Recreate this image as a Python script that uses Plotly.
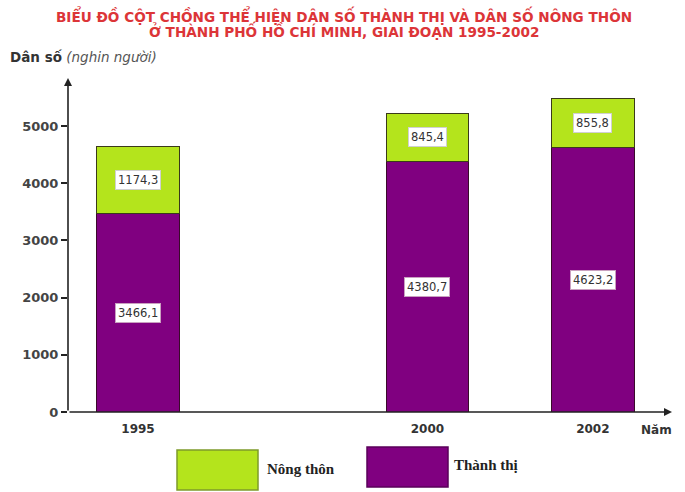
import plotly.graph_objects as go

years = ["1995", "2000", "2002"]
thanh_thi = [3466.1, 4380.7, 4623.2]
nong_thon = [1174.3, 845.4, 855.8]
y_ticks = [0, 1000, 2000, 3000, 4000, 5000]
title_lines = ["BIỂU ĐỒ CỘT CHỒNG THỂ HIỆN DÂN SỐ THÀNH THỊ VÀ DÂN SỐ NÔNG THÔN",
               "Ở THÀNH PHỐ HỒ CHÍ MINH, GIAI ĐOẠN 1995-2002"]

# layout slots for the (unevenly spaced) columns
slots = [1, 4.5, 6.5]

PURPLE = "#800080"
GREEN = "#b4e41c"
FONT = "DejaVu Sans"

W, H = 685, 492
L, R, T, B = 68, 13, 78, 80
PW, PH = W - L - R, H - T - B

fig = go.Figure()
fig.add_trace(go.Bar(x=slots, y=thanh_thi, width=1.0, name="Thành thị",
                     marker=dict(color=PURPLE, line=dict(color="#3a0a2a", width=1))))
fig.add_trace(go.Bar(x=slots, y=nong_thon, width=1.0, name="Nông thôn",
                     marker=dict(color=GREEN, line=dict(color="#3a3a1a", width=1))))

fmt = lambda v: f"{v:.1f}".replace(".", ",")
ann = []
for s, a, b in zip(slots, thanh_thi, nong_thon):
    ann.append(dict(x=s, y=a / 2, text=fmt(a), showarrow=False, bgcolor="white",
                    bordercolor="#c9a0c0", borderwidth=1, borderpad=2,
                    font=dict(family=FONT, size=11.5, color="#333")))
    ann.append(dict(x=s, y=a + b / 2, text=fmt(b), showarrow=False, bgcolor="white",
                    bordercolor="#d0d0d0", borderwidth=1, borderpad=2,
                    font=dict(family=FONT, size=11.5, color="#333")))

def px(xp):
    return (xp - L) / PW

def py(yp):
    return (H - B - yp) / PH

# axis arrows
ann.append(dict(xref="paper", yref="paper", x=0, y=1, ax=0, ay=PH, axref="pixel", ayref="pixel",
                showarrow=True, arrowhead=2, arrowsize=1, arrowwidth=1.6, arrowcolor="#222", text=""))
ann.append(dict(xref="paper", yref="paper", x=1, y=0, ax=-PW, ay=0, axref="pixel", ayref="pixel",
                showarrow=True, arrowhead=2, arrowsize=1, arrowwidth=1.6, arrowcolor="#222", text=""))

# title lines
for i, line in enumerate(title_lines):
    ann.append(dict(xref="paper", yref="paper", x=px(344), y=py(16 + 15 * i),
                    xanchor="center", yanchor="middle", showarrow=False,
                    text=f"<b>{line}</b>",
                    font=dict(family=FONT, size=13.6, color="#dc3538")))

# texts
ann.append(dict(xref="paper", yref="paper", x=px(8), y=py(57), xanchor="left", yanchor="middle",
                showarrow=False,
                text="<b>Dân số</b> <i><span style='color:#555'>(nghin người)</span></i>",
                font=dict(family=FONT, size=13.5, color="#333")))
ann.append(dict(xref="paper", yref="paper", x=px(656), y=py(430), xanchor="center", yanchor="middle",
                showarrow=False, text="<b>Năm</b>",
                font=dict(family=FONT, size=12, color="#333")))
ann.append(dict(xref="paper", yref="paper", x=px(265), y=py(469), xanchor="left", yanchor="middle",
                showarrow=False, text="<b>Nông thôn</b>",
                font=dict(family="Liberation Serif", size=15, color="#222")))
ann.append(dict(xref="paper", yref="paper", x=px(452), y=py(465), xanchor="left", yanchor="middle",
                showarrow=False, text="<b>Thành thị</b>",
                font=dict(family="Liberation Serif", size=15, color="#222")))

shapes = [
    dict(type="rect", xref="paper", yref="paper", x0=px(177), x1=px(258), y0=py(490), y1=py(450),
         fillcolor=GREEN, line=dict(color="#7d9a2a", width=1.5)),
    dict(type="rect", xref="paper", yref="paper", x0=px(367), x1=px(448), y0=py(487), y1=py(447),
         fillcolor=PURPLE, line=dict(color="#5a005a", width=1.5)),
]

fig.update_layout(
    width=W, height=H,
    margin=dict(l=L, r=R, t=T, b=B),
    paper_bgcolor="white", plot_bgcolor="white",
    barmode="stack", showlegend=False,
    annotations=ann, shapes=shapes,
    xaxis=dict(range=[1 - 70 / 82.7, 1 - 70 / 82.7 + PW / 82.7], tickvals=slots, ticktext=years,
               showgrid=False, zeroline=False, showline=False, ticks="",
               tickfont=dict(family=FONT, size=12, color="#333", weight="bold"),
               ticklabelstandoff=8),
    yaxis=dict(range=[0, 5840], tickvals=y_ticks, showgrid=False, zeroline=False, showline=False,
               ticks="outside", ticklen=6, tickwidth=1.5, tickcolor="#222",
               tickfont=dict(family=FONT, size=13, color="#444", weight="bold")),
)

fig.write_html("out.html", config={"displayModeBar": False})
with open("out.html", encoding="utf-8") as f:
    html = f.read()
html = html.replace("<head>", "<head><style>html,body{margin:0;padding:0;}</style>", 1)
with open("out.html", "w", encoding="utf-8") as f:
    f.write(html)
